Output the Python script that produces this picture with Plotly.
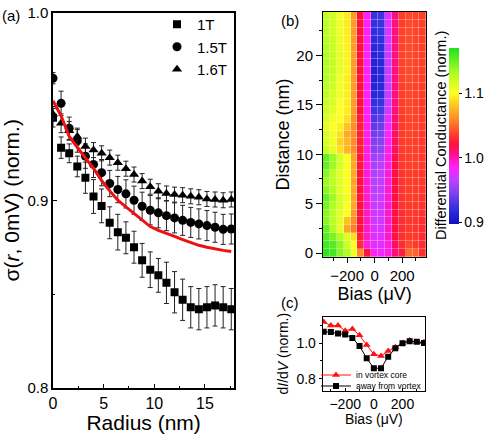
import plotly.graph_objects as go

FONT = "Arial, Liberation Sans, sans-serif"
W, H = 492, 434

# ---------------- panel (a) data ----------------
radius = [0.0, 0.8, 1.6, 2.4, 3.2, 4.0, 4.8, 5.6, 6.4, 7.2, 8.0, 8.8, 9.6, 10.4,
          11.2, 12.0, 12.8, 13.6, 14.4, 15.2, 16.0, 16.8, 17.6]
sigma_1T = [0.944, 0.928, 0.925, 0.918, 0.912, 0.902, 0.897, 0.888, 0.883, 0.880,
            0.875, 0.868, 0.863, 0.860, 0.856, 0.851, 0.847, 0.843, 0.842, 0.843,
            0.844, 0.843, 0.842]
err_1T = [0.005, 0.0057, 0.005, 0.0055, 0.0083, 0.009, 0.009, 0.0085, 0.0095, 0.0085,
          0.0085, 0.009, 0.0095, 0.009, 0.011, 0.011, 0.011, 0.011, 0.011, 0.011,
          0.011, 0.011, 0.011]
sigma_15T = [0.965, 0.9516, 0.9383, 0.9316, 0.9235, 0.9191, 0.9147, 0.9089, 0.9057,
             0.9034, 0.900, 0.8968, 0.8947, 0.8933, 0.8918, 0.8906, 0.8893, 0.8882,
             0.8874, 0.8865, 0.8856, 0.8845, 0.8847]
err_15T = [0.003, 0.0065, 0.006, 0.006, 0.0065, 0.007, 0.007, 0.007, 0.007, 0.0075,
           0.0075, 0.0075, 0.0078, 0.008, 0.008, 0.008, 0.008, 0.008, 0.008, 0.008,
           0.008, 0.008, 0.008]
sigma_16T = [0.9458, 0.941, 0.937, 0.9339, 0.9286, 0.9267, 0.925, 0.9227, 0.920,
             0.9168, 0.9137, 0.9102, 0.9072, 0.9048, 0.9036, 0.903, 0.9027, 0.9021,
             0.9016, 0.9007, 0.9004, 0.900, 0.9004]
err_16T = [0.003, 0.005, 0.005, 0.0045, 0.0045, 0.004, 0.004, 0.004, 0.004, 0.004,
           0.004, 0.004, 0.004, 0.004, 0.004, 0.004, 0.004, 0.004, 0.004, 0.004,
           0.004, 0.004, 0.004]
sigma_fit = [0.953, 0.945, 0.934, 0.928, 0.9225, 0.917, 0.9105, 0.905, 0.900, 0.8965,
             0.893, 0.8895, 0.886, 0.884, 0.8825, 0.8808, 0.879, 0.8775, 0.876, 0.875,
             0.874, 0.8733, 0.8727]

# ---------------- panel (b) data ----------------
bias = [-350, -300, -250, -200, -150, -100, -50, 0, 50, 100, 150, 200, 250, 300, 350]
distance = [0.0, 0.8, 1.6, 2.4, 3.2, 4.0, 4.8, 5.6, 6.4, 7.2, 8.0, 8.8, 9.6, 10.4,
            11.2, 12.0, 12.8, 13.6, 14.4, 15.2, 16.0, 16.8, 17.6, 18.4, 19.2, 20.0,
            20.8, 21.6, 22.4, 23.2, 24.0]
conductance_map = [
    [1.165, 1.160, 1.140, 1.130, 1.105, 1.060, 1.020, 0.985, 0.980, 0.990, 1.010, 1.025, 1.050, 1.048, 1.030],
    [1.160, 1.155, 1.140, 1.120, 1.100, 1.030, 0.990, 0.975, 0.975, 0.990, 1.015, 1.030, 1.040, 1.035, 1.030],
    [1.155, 1.145, 1.130, 1.115, 1.090, 1.025, 0.995, 0.975, 0.975, 0.995, 1.020, 1.030, 1.035, 1.035, 1.030],
    [1.150, 1.130, 1.110, 1.070, 1.055, 1.020, 0.995, 0.975, 0.970, 0.995, 1.020, 1.030, 1.035, 1.033, 1.030],
    [1.140, 1.125, 1.110, 1.080, 1.060, 1.020, 0.995, 0.970, 0.970, 0.995, 1.020, 1.030, 1.034, 1.033, 1.030],
    [1.140, 1.125, 1.110, 1.100, 1.065, 1.020, 0.995, 0.970, 0.970, 0.995, 1.020, 1.030, 1.035, 1.034, 1.032],
    [1.145, 1.130, 1.115, 1.100, 1.070, 1.020, 0.995, 0.968, 0.970, 0.995, 1.020, 1.032, 1.035, 1.034, 1.033],
    [1.150, 1.135, 1.115, 1.105, 1.070, 1.022, 0.993, 0.965, 0.968, 0.993, 1.020, 1.032, 1.036, 1.035, 1.033],
    [1.140, 1.130, 1.110, 1.100, 1.070, 1.020, 0.993, 0.963, 0.967, 0.993, 1.020, 1.033, 1.036, 1.035, 1.034],
    [1.135, 1.125, 1.110, 1.100, 1.068, 1.020, 0.992, 0.962, 0.966, 0.992, 1.020, 1.033, 1.036, 1.035, 1.034],
    [1.140, 1.125, 1.110, 1.100, 1.070, 1.020, 0.992, 0.960, 0.965, 0.992, 1.020, 1.033, 1.036, 1.035, 1.034],
    [1.150, 1.135, 1.115, 1.100, 1.070, 1.022, 0.990, 0.958, 0.963, 0.990, 1.020, 1.034, 1.037, 1.036, 1.035],
    [1.150, 1.135, 1.115, 1.100, 1.068, 1.022, 0.990, 0.955, 0.960, 0.990, 1.018, 1.034, 1.037, 1.036, 1.035],
    [1.120, 1.110, 1.090, 1.075, 1.060, 1.025, 0.990, 0.948, 0.952, 0.988, 1.015, 1.035, 1.037, 1.036, 1.035],
    [1.115, 1.105, 1.085, 1.075, 1.060, 1.025, 0.990, 0.945, 0.948, 0.988, 1.015, 1.035, 1.037, 1.036, 1.035],
    [1.115, 1.105, 1.090, 1.070, 1.060, 1.025, 0.988, 0.940, 0.945, 0.985, 1.015, 1.035, 1.038, 1.036, 1.035],
    [1.110, 1.100, 1.095, 1.080, 1.060, 1.025, 0.988, 0.935, 0.940, 0.982, 1.013, 1.035, 1.038, 1.037, 1.035],
    [1.115, 1.105, 1.100, 1.090, 1.062, 1.023, 0.987, 0.930, 0.935, 0.978, 1.012, 1.035, 1.038, 1.037, 1.035],
    [1.120, 1.110, 1.100, 1.095, 1.065, 1.020, 0.985, 0.925, 0.928, 0.972, 1.010, 1.036, 1.039, 1.037, 1.035],
    [1.120, 1.115, 1.100, 1.095, 1.065, 1.020, 0.985, 0.920, 0.922, 0.970, 1.010, 1.036, 1.039, 1.037, 1.035],
    [1.125, 1.115, 1.105, 1.095, 1.065, 1.020, 0.985, 0.914, 0.916, 0.968, 1.010, 1.036, 1.039, 1.037, 1.036],
    [1.125, 1.120, 1.105, 1.095, 1.065, 1.020, 0.985, 0.912, 0.915, 0.968, 1.010, 1.036, 1.039, 1.037, 1.036],
    [1.128, 1.120, 1.105, 1.095, 1.065, 1.020, 0.985, 0.910, 0.914, 0.968, 1.010, 1.037, 1.040, 1.038, 1.036],
    [1.128, 1.122, 1.108, 1.097, 1.066, 1.020, 0.984, 0.910, 0.914, 0.968, 1.010, 1.037, 1.040, 1.038, 1.036],
    [1.130, 1.122, 1.108, 1.097, 1.066, 1.020, 0.984, 0.911, 0.915, 0.968, 1.010, 1.037, 1.040, 1.038, 1.036],
    [1.130, 1.122, 1.108, 1.097, 1.066, 1.020, 0.984, 0.912, 0.916, 0.970, 1.010, 1.037, 1.040, 1.038, 1.036],
    [1.128, 1.120, 1.107, 1.096, 1.066, 1.020, 0.984, 0.914, 0.917, 0.970, 1.010, 1.037, 1.040, 1.038, 1.036],
    [1.126, 1.120, 1.106, 1.095, 1.066, 1.020, 0.985, 0.917, 0.919, 0.972, 1.010, 1.037, 1.040, 1.038, 1.036],
    [1.125, 1.118, 1.105, 1.095, 1.065, 1.020, 0.985, 0.919, 0.921, 0.972, 1.010, 1.037, 1.040, 1.038, 1.036],
    [1.125, 1.118, 1.105, 1.094, 1.065, 1.020, 0.985, 0.921, 0.923, 0.974, 1.010, 1.036, 1.039, 1.038, 1.036],
    [1.124, 1.117, 1.104, 1.094, 1.065, 1.020, 0.985, 0.923, 0.925, 0.975, 1.010, 1.036, 1.039, 1.038, 1.036],
]
cbar_ticks = [0.9, 1.0, 1.1]

# ---------------- panel (c) data ----------------
bias_c = [-350, -300, -250, -200, -150, -100, -50, 0, 50, 100, 150, 200, 250, 300, 350]
didv_core = [1.12, 1.10, 1.10, 1.071, 1.081, 1.045, 0.99, 0.938, 0.928, 0.956, 0.977,
             1.0, 1.015, 1.006, 1.006]
didv_away = [1.065, 1.063, 1.055, 1.05, 1.03, 0.985, 0.915, 0.859, 0.859, 0.924, 0.972,
             1.0, 1.012, 1.008, 1.002]

colorscale = [
    [0.000, "#1010c0"], [0.084, "#3030e0"], [0.176, "#8040f0"], [0.249, "#c040ff"],
    [0.322, "#ff20ff"], [0.396, "#ff1090"], [0.451, "#ff1040"], [0.505, "#ff3a2a"],
    [0.597, "#ff8c2a"], [0.689, "#ffd020"], [0.744, "#ffff20"], [0.853, "#b0ff20"],
    [1.000, "#20e020"],
]


def px(x):
    return x / W


def py(y):
    return 1 - y / H


fig = go.Figure()

# ----- panel (a)
ebar = dict(type="data", thickness=1, width=2.5, color="#222222")
fig.add_trace(go.Scatter(x=radius, y=sigma_1T, mode="markers", name="1T",
                         marker=dict(symbol="square", size=8, color="black"),
                         error_y=dict(array=err_1T, **ebar), xaxis="x", yaxis="y"))
fig.add_trace(go.Scatter(x=radius, y=sigma_15T, mode="markers", name="1.5T",
                         marker=dict(symbol="circle", size=9, color="black"),
                         error_y=dict(array=err_15T, **ebar), xaxis="x", yaxis="y"))
fig.add_trace(go.Scatter(x=radius, y=sigma_16T, mode="markers", name="1.6T",
                         marker=dict(symbol="triangle-up", size=9, color="black"),
                         error_y=dict(array=err_16T, **ebar), xaxis="x", yaxis="y"))
fig.add_trace(go.Scatter(x=radius, y=sigma_fit, mode="lines", showlegend=False,
                         line=dict(color="#ee1111", width=3), xaxis="x", yaxis="y"))

# ----- panel (b)
fig.add_trace(go.Heatmap(
    x=bias, y=distance, z=conductance_map, colorscale=colorscale,
    zmin=0.897, zmax=1.17, xgap=0.3, ygap=0.3, xaxis="x2", yaxis="y2",
    showscale=True,
    colorbar=dict(x=px(449), xanchor="left", y=py(224), yanchor="bottom",
                  len=176 / H, lenmode="fraction", thickness=10, thicknessmode="pixels",
                  outlinewidth=0, xpad=0, ypad=0, tickvals=cbar_ticks,
                  ticktext=["0.9", "1.0", "1.1"], ticks="outside", ticklen=3,
                  tickcolor="black", tickfont=dict(family=FONT, size=14, color="black")),
))

# ----- panel (c)
fig.add_trace(go.Scatter(x=bias_c, y=didv_core, mode="lines+markers", name="in vortex core",
                         line=dict(color="#ff1111", width=1),
                         marker=dict(symbol="triangle-up", size=7, color="#ff1111"),
                         xaxis="x3", yaxis="y3", legend="legend2"))
fig.add_trace(go.Scatter(x=bias_c, y=didv_away, mode="lines+markers", name="away from vortex",
                         line=dict(color="black", width=1),
                         marker=dict(symbol="square", size=6, color="black"),
                         xaxis="x3", yaxis="y3", legend="legend3"))

axis_common = dict(showline=True, linecolor="black", linewidth=1.5, mirror=True,
                   showgrid=False, zeroline=False, tickcolor="black",
                   tickfont=dict(family=FONT, color="black"))


def lab(text, x, y, size, angle=0):
    return dict(text=text, x=px(x), y=py(y), xref="paper", yref="paper", showarrow=False,
                xanchor="center", yanchor="middle", textangle=angle,
                font=dict(family=FONT, size=size, color="black"))


small_leg = dict(xanchor="left", yanchor="middle", bgcolor="rgba(0,0,0,0)",
                 font=dict(family=FONT, size=8.5, color="black"), tracegroupgap=0)

fig.update_layout(
    width=W, height=H, margin=dict(l=0, r=0, t=0, b=0, autoexpand=False),
    paper_bgcolor="white", plot_bgcolor="white",
    font=dict(family=FONT, color="black"),
    xaxis=dict(domain=[px(53), px(234.3)], range=[0, 17.9], tickvals=[0, 5, 10, 15],
               ticks="inside", ticklen=4, minor=dict(dtick=2.5, tick0=0, ticks="inside", ticklen=2.5, tickcolor="black"),
               title=dict(text="Radius (nm)", font=dict(size=21, family=FONT), standoff=8),
               anchor="y", **{**axis_common, "tickfont": dict(family=FONT, size=16, color="black")}),
    yaxis=dict(domain=[py(388), py(12.5)], range=[0.8, 1.0], tickvals=[0.8, 0.9, 1.0],
               tickformat=".1f", ticks="inside", ticklen=4,
               minor=dict(dtick=0.05, tick0=0.8, ticks="inside", ticklen=2.5, tickcolor="black"),
               title=dict(text="σ(<i>r</i>, 0mV) (norm.)", font=dict(size=21, family=FONT), standoff=6),
               anchor="x", **{**axis_common, "tickfont": dict(family=FONT, size=15, color="black")}),
    xaxis2=dict(domain=[px(323), px(426.3)], range=[-375, 375], tickvals=[-200, 0, 200],
                ticks="outside", ticklen=5,
                minor=dict(dtick=100, tick0=0, ticks="outside", ticklen=3, tickcolor="black"),
                title=dict(text="Bias (μV)", font=dict(size=18, family=FONT), standoff=0),
                anchor="y2", **{**axis_common, "linewidth": 1, "tickfont": dict(family=FONT, size=15, color="black")}),
    yaxis2=dict(domain=[py(257), py(12)], range=[-0.4, 24.4], tickvals=[0, 5, 10, 15, 20],
                ticks="outside", ticklen=6,
                minor=dict(dtick=2.5, tick0=0, ticks="outside", ticklen=3, tickcolor="black"),
                title=dict(text="Distance (nm)", font=dict(size=18, family=FONT), standoff=2),
                anchor="x2", **{**axis_common, "linewidth": 1, "tickfont": dict(family=FONT, size=15, color="black")}),
    xaxis3=dict(domain=[px(322.7), px(425)], range=[-357, 357], tickvals=[-200, 0, 200],
                ticks="inside", ticklen=3,
                minor=dict(dtick=100, tick0=0, ticks="inside", ticklen=2, tickcolor="black"),
                title=dict(text="Bias (μV)", font=dict(size=14, family=FONT), standoff=0),
                anchor="y3", **{**axis_common, "linewidth": 1, "tickfont": dict(family=FONT, size=14, color="black")}),
    yaxis3=dict(domain=[py(390.7), py(316.7)], range=[0.732, 1.15], tickvals=[0.8, 1.0],
                tickformat=".1f", ticks="outside", ticklen=3,
                minor=dict(dtick=0.1, tick0=0.8, ticks="outside", ticklen=2, tickcolor="black"),
                title=dict(text="d<i>I</i>/d<i>V</i> (norm.)", font=dict(size=14, family=FONT), standoff=4),
                anchor="x3", **{**axis_common, "linewidth": 1, "tickfont": dict(family=FONT, size=14, color="black")}),
    legend=dict(x=px(157), y=py(8), xanchor="left", yanchor="top", bgcolor="rgba(0,0,0,0)",
                font=dict(family=FONT, size=15, color="black"), tracegroupgap=0),
    legend2=dict(x=px(316), y=py(375), **small_leg),
    legend3=dict(x=px(316), y=py(386), **small_leg),
    annotations=[
        lab("(a)", 11, 15, 15),
        lab("(b)", 290, 20, 15),
        lab("(c)", 290, 302, 15),
        lab("Differential Conductance (norm.)", 441, 136, 14.5, -90),
    ],
)

fig.write_html("out.html")
